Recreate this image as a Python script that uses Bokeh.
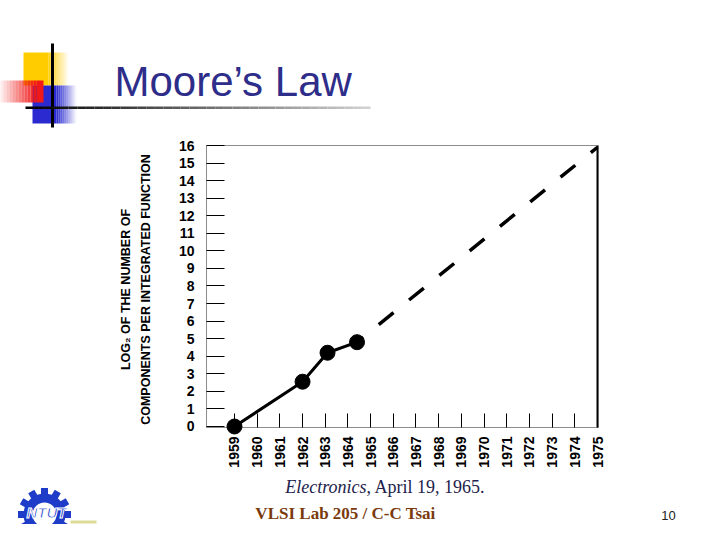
import math
from bokeh.plotting import figure
from bokeh.models import Range1d, FixedTicker, Span
from bokeh.core.properties import value
from bokeh.embed import file_html
from bokeh.resources import INLINE

# ---------------- data ----------------
years = [1959, 1962, 1963.1, 1964.4]
log2_components = [0, 2.55, 4.2, 4.8]
proj_years = [1964.4, 1975]
proj_log2 = [4.8, 15.9]
x_ticks = list(range(1959, 1976))
y_ticks = list(range(0, 17))

title_text = "Moore’s Law"
y_label_1 = "LOG₂ OF THE NUMBER OF"
y_label_2 = "COMPONENTS PER INTEGRATED FUNCTION"
caption_italic = "Electronics"
caption_rest = ", April 19, 1965."
footer_text = "VLSI Lab 205 / C-C Tsai"
page_no = "10"
logo_text = "NTUT"

# ---------------- figure ----------------
W, H = 704, 524
FL, FT, FR, FB = 206, 145, 598, 427  # frame edges in page pixels

p = figure(width=W, height=H, output_backend="svg", toolbar_location=None, title=None,
           x_range=Range1d(1957.766, 1975.044), y_range=Range1d(-0.057, 16.0),
           min_border_left=FL, min_border_right=W - FR, min_border_top=FT, min_border_bottom=H - FB,
           background_fill_color="white", border_fill_color="white")
# page-pixel coordinate system for slide decorations and texts
p.extra_x_ranges = {"page": Range1d(FL, FR)}
p.extra_y_ranges = {"page": Range1d(FB, FT)}
PG = dict(x_range_name="page", y_range_name="page", level="overlay")

p.xaxis.ticker = FixedTicker(ticks=x_ticks)
p.yaxis.ticker = FixedTicker(ticks=y_ticks)
for ax in (p.xaxis[0], p.yaxis[0]):
    ax.axis_line_color = "#8c8c8c"
    ax.major_tick_line_color = "black"
    ax.major_tick_out = 0
    ax.minor_tick_line_color = None
    ax.major_label_text_font = "Liberation Sans"
    ax.major_label_text_font_style = "bold"
    ax.major_label_text_font_size = "14px"
    ax.major_label_text_color = "black"
p.xaxis.major_tick_in = 14
p.yaxis.major_tick_in = 18
p.xaxis.major_label_orientation = math.pi / 2
p.xaxis.major_label_standoff = 9
p.yaxis.major_label_standoff = 12
p.xgrid.visible = False
p.ygrid.visible = False
p.outline_line_color = "#8c8c8c"
p.add_layout(Span(location=1975, dimension="height", line_color="black", line_width=2))

# ---------------- data marks ----------------
p.line(years, log2_components, line_width=3, line_color="black")
p.line(proj_years, proj_log2, line_width=3.5, line_color="black", line_dash="19 20",
       line_dash_offset=11)
p.scatter(years, log2_components, size=15, fill_color="black", line_color="black", level="overlay")


def txt(x, y, text, font="Liberation Sans", size="14px", style="normal", color="black",
        align="left", angle=0.0, **kw):
    p.text(x=[x], y=[y], text=[text], text_font=value(font), text_font_size=size,
           text_font_style=style, text_color=color, text_align=align, text_baseline="middle",
           angle=angle, **PG, **kw)


# y-axis title (two rotated lines)
for cx, t in ((125, y_label_1), (145, y_label_2)):
    txt(cx, 289, t, size="12.5px", style="bold", align="center", angle=math.pi / 2)

# slide title
txt(114, 81, title_text, size="42px", color="#2e2e8a")

# caption
txt(366, 486, caption_italic, font="Liberation Serif", size="18px", style="italic",
    color="#22224a", align="right")
txt(366, 486, caption_rest, font="Liberation Serif", size="18px", color="#22224a")

# footer
txt(345, 513, footer_text, font="Liberation Serif", size="17px", style="bold",
    color="#7a3a0c", align="center")
txt(668, 515, page_no, size="13px", color="#222222", align="center")


# ---------------- decorations ----------------
L, R, T, B, C, A = [], [], [], [], [], []


def box(x0, x1, y0, y1, color, alpha=1.0):
    L.append(x0); R.append(x1); T.append(y0); B.append(y1); C.append(color); A.append(alpha)


def fade_box(x0, x1, y0, y1, color, a0, a1, n=10):
    w = (x1 - x0) / n
    for i in range(n):
        box(x0 + i * w, x0 + (i + 1) * w, y0, y1, color, a0 + (a1 - a0) * (i + 0.5) / n)


def hexmix(c0, c1, t):
    a = [int(c0[i:i + 2], 16) for i in (1, 3, 5)]
    b = [int(c1[i:i + 2], 16) for i in (1, 3, 5)]
    return "#" + "".join("%02x" % round(a[k] + (b[k] - a[k]) * t) for k in range(3))


# yellow square
box(23, 48, 52, 85, "#ffcc00")
fade_box(48, 68, 52, 85, "#ffcc00", 1.0, 0.0)
# blue square
box(32, 56, 85, 123, "#2a2ad0")
fade_box(56, 76, 85, 123, "#2a2ad0", 1.0, 0.0)
# red bar
fade_box(0, 36, 80, 102, "#f01818", 0.05, 1.0, n=12)
box(36, 43, 80, 102, "#f01818")
# black cross lines
box(50.5, 53.5, 43, 127, "#000000")
n = 40
for i in range(n):
    box(25 + i * 345 / n, 25 + (i + 1) * 345 / n, 106, 108.5, hexmix("#000000", "#d0d0d0", i / (n - 1)))
# logo bar
box(70, 96, 520, 523, "#dcdc98")

p.quad(left=L, right=R, top=T, bottom=B, fill_color=C, fill_alpha=A, line_color=None, **PG)

# logo: gear
GX, GY = 44, 514
n_teeth = 12
tx = [GX + 22 * math.cos(2 * math.pi * k / n_teeth) for k in range(n_teeth)]
ty = [GY + 22 * math.sin(2 * math.pi * k / n_teeth) for k in range(n_teeth)]
ta = [-2 * math.pi * k / n_teeth for k in range(n_teeth)]
p.rect(x=tx, y=ty, width=9, height=7, angle=ta, fill_color="#1e3cc8", line_color=None, **PG)
p.annulus(x=[GX], y=[GY], inner_radius=12, outer_radius=21, fill_color="#1e3cc8",
          line_color=None, **PG)
txt(GX + 2, GY - 2, logo_text, size="15px", style="bold italic", color="#1e3cc8", align="center",
    text_outline_color="white")

open("out.html", "w").write(file_html(p, INLINE))
